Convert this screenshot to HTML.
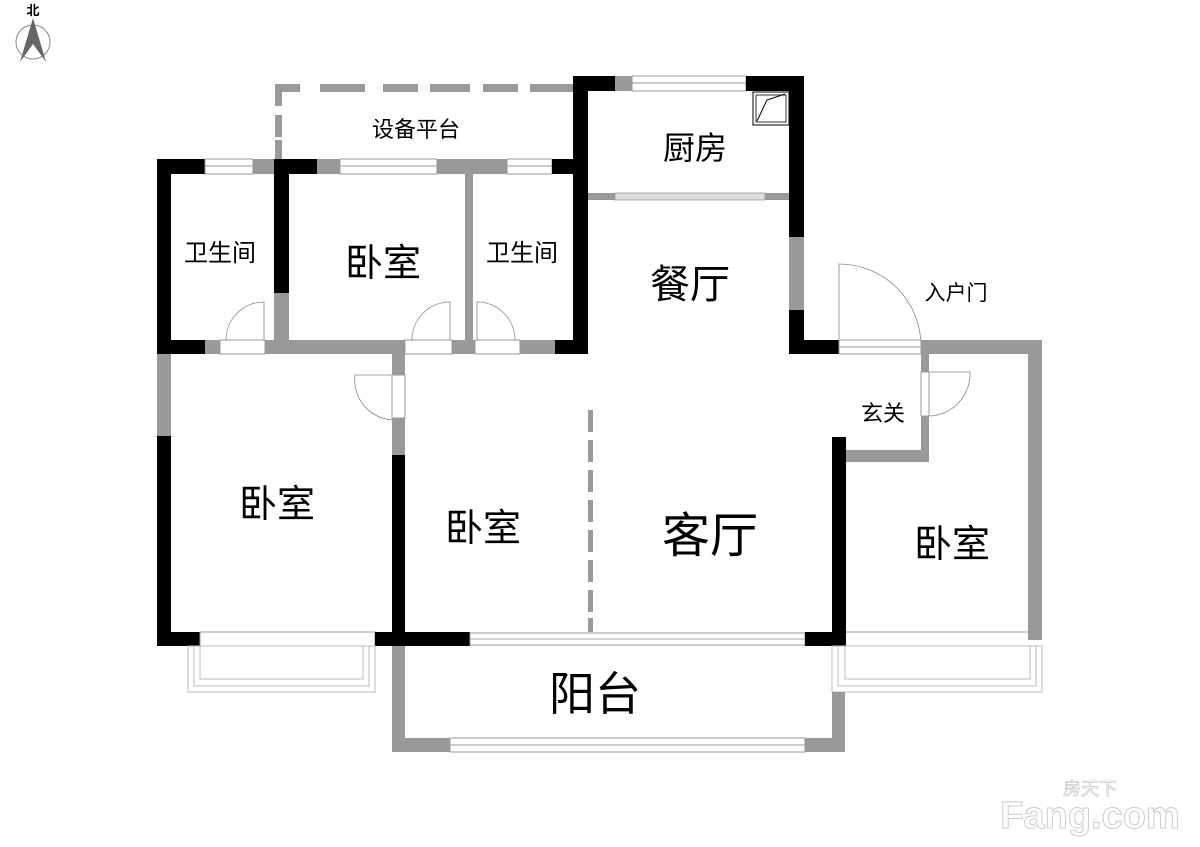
<!DOCTYPE html>
<html><head><meta charset="utf-8"><style>
html,body{margin:0;padding:0;background:#fff}
svg{display:block}
text{font-family:"Liberation Sans","Noto Sans CJK SC",sans-serif;fill:#000}
</style></head><body>
<svg width="1200" height="847" viewBox="0 0 1200 847" xmlns="http://www.w3.org/2000/svg">
<rect width="1200" height="847" fill="#fff"/>
<!-- north arrow -->
<text x="33" y="15" font-size="13" text-anchor="middle" font-weight="bold">北</text>
<circle cx="33" cy="42" r="17" fill="none" stroke="#888" stroke-width="1"/>
<polygon points="33,18 20,62 33,44 46,62" fill="#666"/>

<!-- equipment platform dashed -->
<g fill="#999">
<rect x="275" y="84" width="25" height="8"/><rect x="320" y="84" width="45" height="8"/>
<rect x="383" y="84" width="35" height="8"/><rect x="430" y="84" width="40" height="8"/>
<rect x="483" y="84" width="35" height="8"/><rect x="530" y="84" width="43" height="8"/>
<rect x="275" y="84" width="7" height="22"/><rect x="275" y="115" width="7" height="22"/><rect x="275" y="140" width="7" height="19"/>
</g>

<!-- top wall of bath/bedroom/bath -->
<rect x="157" y="159" width="48" height="15" fill="#000"/>
<rect x="205" y="159" width="48" height="15" fill="#fff" stroke="#999" stroke-width="1"/>
<line x1="205" y1="166" x2="253" y2="166" stroke="#999"/>
<rect x="253" y="159" width="22" height="15" fill="#999"/>
<rect x="275" y="159" width="42" height="15" fill="#000"/>
<rect x="317" y="159" width="23" height="15" fill="#999"/>
<rect x="340" y="159" width="97" height="15" fill="#fff" stroke="#999"/>
<line x1="340" y1="166" x2="437" y2="166" stroke="#999"/>
<rect x="437" y="159" width="70" height="15" fill="#999"/>
<rect x="507" y="159" width="45" height="15" fill="#fff" stroke="#999"/>
<line x1="507" y1="166" x2="552" y2="166" stroke="#999"/>
<rect x="552" y="159" width="22" height="15" fill="#000"/>

<rect x="157" y="159" width="14" height="195" fill="#000"/>
<rect x="157" y="354" width="14" height="82" fill="#999"/>
<rect x="157" y="436" width="14" height="210" fill="#000"/>
<rect x="274" y="159" width="15" height="134" fill="#000"/>
<rect x="274" y="293" width="15" height="61" fill="#999"/>
<rect x="465" y="174" width="8" height="166" fill="#999"/>
<rect x="573" y="76" width="15" height="278" fill="#000"/>

<rect x="157" y="340" width="48" height="14" fill="#000"/>
<rect x="205" y="340" width="15" height="14" fill="#999"/>
<rect x="220" y="340" width="45" height="14" fill="#fff" stroke="#999"/>
<rect x="265" y="340" width="140" height="14" fill="#999"/>
<rect x="405" y="340" width="47" height="14" fill="#fff" stroke="#999"/>
<rect x="452" y="340" width="23" height="14" fill="#999"/>
<rect x="475" y="340" width="45" height="14" fill="#fff" stroke="#999"/>
<rect x="520" y="340" width="35" height="14" fill="#999"/>
<rect x="555" y="340" width="33" height="14" fill="#000"/>
<g fill="none" stroke="#888" stroke-width="0.8">
<path d="M264,340 L264,302 A38,38 0 0 0 226,340"/>
<path d="M450,340 L450,302 A38,38 0 0 0 412,340"/>
<path d="M477,340 L477,302 A38,38 0 0 1 515,340"/>
<path d="M395,375 L355,375 A40,40 0 0 0 395,420"/>
<path d="M929,372 L970,372 A42,42 0 0 1 929,416"/>
<path d="M839,354 L839,264 A82,82 0 0 1 921,346"/>
</g>

<rect x="392" y="354" width="13" height="21" fill="#999"/>
<rect x="392" y="375" width="13" height="43" fill="#fff" stroke="#999"/>
<rect x="392" y="418" width="13" height="37" fill="#999"/>
<rect x="392" y="455" width="13" height="190" fill="#000"/>

<g fill="#999">
<rect x="588" y="410" width="5" height="22"/><rect x="588" y="440" width="5" height="22"/>
<rect x="588" y="470" width="5" height="22"/><rect x="588" y="500" width="5" height="22"/>
<rect x="588" y="530" width="5" height="22"/><rect x="588" y="560" width="5" height="22"/>
<rect x="588" y="590" width="5" height="22"/><rect x="588" y="618" width="5" height="14"/>
</g>

<rect x="573" y="76" width="42" height="15" fill="#000"/>
<rect x="615" y="76" width="17" height="15" fill="#999"/>
<rect x="632" y="76" width="114" height="15" fill="#fff" stroke="#999"/>
<line x1="632" y1="83" x2="746" y2="83" stroke="#999"/>
<rect x="746" y="76" width="58" height="15" fill="#000"/>
<rect x="789" y="76" width="15" height="161" fill="#000"/>
<rect x="789" y="237" width="15" height="73" fill="#999"/>
<rect x="789" y="310" width="15" height="44" fill="#000"/>
<rect x="789" y="340" width="50" height="14" fill="#000"/>
<rect x="753" y="92" width="36" height="33" fill="#fff" stroke="#000" stroke-width="1"/>
<rect x="756" y="95" width="30" height="27" fill="none" stroke="#000" stroke-width="0.8"/>
<path d="M757,121 L767,100 L785,94" fill="none" stroke="#000" stroke-width="1"/>
<rect x="588" y="193" width="201" height="7" fill="#999"/>
<rect x="615" y="193" width="150" height="7" fill="#ddd" stroke="#999" stroke-width="0.8"/>
<rect x="839" y="340" width="82" height="14" fill="#fff" stroke="#999"/>
<line x1="839" y1="347" x2="921" y2="347" stroke="#999"/>
<rect x="921" y="340" width="121" height="14" fill="#999"/>
<rect x="1028" y="340" width="14" height="300" fill="#999"/>
<rect x="921" y="354" width="8" height="18" fill="#999"/>
<rect x="921" y="372" width="8" height="44" fill="#fff" stroke="#999"/>
<rect x="921" y="416" width="8" height="46" fill="#999"/>
<rect x="846" y="450" width="83" height="12" fill="#999"/>
<rect x="832" y="437" width="14" height="208" fill="#000"/>

<rect x="157" y="632" width="43" height="14" fill="#000"/>
<rect x="200" y="632" width="175" height="14" fill="#fff" stroke="#999"/>
<rect x="375" y="632" width="95" height="14" fill="#000"/>
<rect x="470" y="633" width="335" height="12" fill="#fff" stroke="#999"/>
<line x1="470" y1="639" x2="805" y2="639" stroke="#aaa"/>
<rect x="805" y="632" width="41" height="14" fill="#000"/>
<line x1="846" y1="632" x2="1028" y2="632" stroke="#999"/>
<g fill="none" stroke="#bbb" stroke-width="1">
<rect x="188" y="646" width="187" height="46"/><rect x="194" y="646" width="175" height="40"/><rect x="200" y="646" width="163" height="33"/>
<rect x="832" y="646" width="210" height="46"/><rect x="838" y="646" width="198" height="40"/><rect x="845" y="646" width="185" height="33"/>
</g>
<rect x="392" y="646" width="13" height="106" fill="#999"/>
<rect x="832" y="692" width="13" height="60" fill="#999"/>
<rect x="392" y="738" width="58" height="14" fill="#999"/>
<rect x="450" y="738" width="355" height="14" fill="#fff" stroke="#999"/>
<line x1="450" y1="745" x2="805" y2="745" stroke="#999"/>
<rect x="805" y="738" width="40" height="14" fill="#999"/>

<text x="416" y="137" font-size="22" text-anchor="middle">设备平台</text>
<text x="695" y="159" font-size="32" text-anchor="middle">厨房</text>
<text x="220" y="261" font-size="24" text-anchor="middle">卫生间</text>
<text x="383" y="276" font-size="38" text-anchor="middle">卧室</text>
<text x="522" y="261" font-size="24" text-anchor="middle">卫生间</text>
<text x="690" y="298" font-size="40" text-anchor="middle">餐厅</text>
<text x="956" y="300" font-size="21" text-anchor="middle">入户门</text>
<text x="883" y="421" font-size="22" text-anchor="middle">玄关</text>
<text x="277" y="517" font-size="38" text-anchor="middle">卧室</text>
<text x="483" y="541" font-size="38" text-anchor="middle">卧室</text>
<text x="710" y="552" font-size="48" text-anchor="middle">客厅</text>
<text x="952" y="557" font-size="38" text-anchor="middle">卧室</text>
<text x="595" y="710" font-size="46" text-anchor="middle">阳台</text>
<text x="1090" y="795" font-size="18" style="fill:#fff;stroke:#ccc;stroke-width:0.8" text-anchor="middle">房天下</text>
<text x="1090" y="828" font-size="38" font-weight="bold" style="fill:#fff;stroke:#ccc;stroke-width:1" text-anchor="middle">Fang.com</text>
</svg>
</body></html>
